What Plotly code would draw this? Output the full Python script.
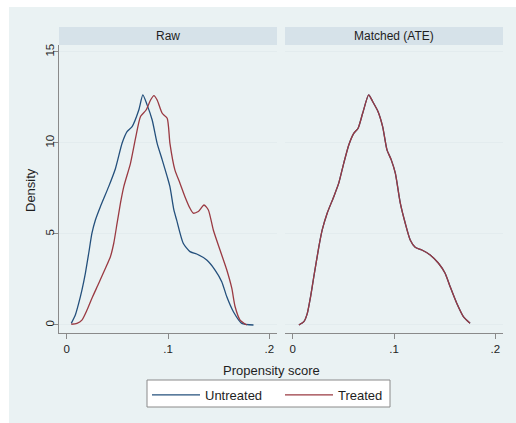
import plotly.graph_objects as go

W, H = 516, 423

# ---- data ----
raw_untreated_x = [0.0046, 0.0086, 0.0119, 0.0151, 0.0185, 0.0218, 0.0250, 0.0284, 0.0333, 0.0415,
                   0.0482, 0.0547, 0.0596, 0.0646, 0.0712, 0.0752, 0.0794, 0.0844, 0.0893, 0.0943,
                   0.0992, 0.1019, 0.1058, 0.1085, 0.1150, 0.1217, 0.1283, 0.1382, 0.1464, 0.1530,
                   0.1580, 0.1645, 0.1728, 0.1843]
raw_untreated_y = [0.09, 0.55, 1.19, 1.92, 2.84, 3.94, 5.04, 5.77, 6.50, 7.60,
                   8.60, 9.98, 10.62, 10.90, 11.81, 12.64, 12.09, 11.26, 9.98, 9.07,
                   8.15, 7.60, 6.32, 5.77, 4.49, 4.03, 3.90, 3.57, 3.02, 2.38,
                   1.55, 0.73, 0.09, 0.00]

raw_treated_x = [0.0046, 0.0102, 0.0151, 0.0201, 0.0250, 0.0317, 0.0383, 0.0432, 0.0465, 0.0498,
                 0.0531, 0.0564, 0.0630, 0.0680, 0.0729, 0.0784, 0.0828, 0.0861, 0.0893, 0.0943,
                 0.0992, 0.1019, 0.1068, 0.1118, 0.1167, 0.1217, 0.1249, 0.1299, 0.1355, 0.1398,
                 0.1447, 0.1513, 0.1580, 0.1629, 0.1662, 0.1711, 0.1777]
raw_treated_y = [0.04, 0.09, 0.27, 0.82, 1.47, 2.29, 3.12, 3.75, 4.49, 5.59,
                 6.69, 7.60, 8.88, 10.26, 11.45, 11.81, 12.36, 12.60, 12.36, 11.63,
                 11.36, 9.98, 8.52, 7.79, 7.05, 6.41, 6.14, 6.23, 6.59, 6.32,
                 5.22, 4.12, 3.02, 2.02, 1.00, 0.27, 0.00]

matched_x = [0.0062, 0.0111, 0.0145, 0.0177, 0.0209, 0.0259, 0.0292, 0.0341, 0.0406, 0.0455,
             0.0504, 0.0554, 0.0603, 0.0646, 0.0691, 0.0750, 0.0790, 0.0843, 0.0888, 0.0931,
             0.0973, 0.1013, 0.1062, 0.1111, 0.1160, 0.1209, 0.1275, 0.1357, 0.1439, 0.1504,
             0.1554, 0.1619, 0.1684, 0.1750]
matched_untreated_y = [0.00, 0.18, 0.64, 1.55, 2.65, 4.30, 5.22, 6.14, 7.05, 7.79,
                       8.88, 9.89, 10.53, 10.81, 11.63, 12.64, 12.27, 11.72, 10.90, 9.62,
                       9.07, 8.34, 6.69, 5.59, 4.67, 4.27, 4.12, 3.85, 3.39, 2.84,
                       2.10, 1.19, 0.46, 0.09]
matched_treated_y = [0.00, 0.18, 0.64, 1.55, 2.65, 4.30, 5.22, 6.14, 7.05, 7.79,
                     8.88, 9.89, 10.53, 10.81, 11.63, 12.64, 12.27, 11.72, 10.90, 9.62,
                     9.07, 8.34, 6.69, 5.59, 4.67, 4.27, 4.12, 3.85, 3.39, 2.84,
                     2.10, 1.19, 0.46, 0.09]

panel_titles = ["Raw", "Matched (ATE)"]
series_names = ["Untreated", "Treated"]
x_tickvals = [0, 0.1, 0.2]
x_ticktext = ["0", ".1", ".2"]
y_tickvals = [0, 5, 10, 15]
y_ticktext = ["0", "5", "10", "15"]

# ---- style ----
BLUE = "#24507C"
RED = "#9A3A42"
BG = "#EAF2F3"
STRIP = "#D6E2E9"
GRID = "#E3ECEE"
AXIS = "#8A8A8A"
TXT = "#1E1E1E"
FONT = "Liberation Sans, Arial, sans-serif"


def px_x(p):
    return p / W


def px_y(p):
    return 1 - p / H


left_dom = [px_x(59), px_x(277)]
right_dom = [px_x(285), px_x(503)]
y_dom = [px_y(333), px_y(45)]
xr = [-0.0075, 0.2075]
yr = [-0.44, 15.38]

fig = go.Figure()

line_style = dict(width=1.3, shape="spline", smoothing=0.6)
fig.add_trace(go.Scatter(x=raw_untreated_x, y=raw_untreated_y, mode="lines", name=series_names[0],
                         line=dict(color=BLUE, **line_style),
                         legendgroup="u", xaxis="x", yaxis="y"))
fig.add_trace(go.Scatter(x=raw_treated_x, y=raw_treated_y, mode="lines", name=series_names[1],
                         line=dict(color=RED, **line_style),
                         legendgroup="t", xaxis="x", yaxis="y"))
fig.add_trace(go.Scatter(x=matched_x, y=matched_untreated_y, mode="lines", name=series_names[0],
                         line=dict(color=BLUE, **line_style),
                         legendgroup="u", showlegend=False, xaxis="x2", yaxis="y2"))
fig.add_trace(go.Scatter(x=matched_x, y=matched_treated_y, mode="lines", name=series_names[1],
                         line=dict(color=RED, **line_style),
                         legendgroup="t", showlegend=False, xaxis="x2", yaxis="y2"))

xaxis_common = dict(range=xr, tickvals=x_tickvals, ticktext=x_ticktext, showgrid=False,
                    zeroline=False, showline=True, linecolor=AXIS, linewidth=1,
                    ticks="outside", ticklen=5, tickcolor=AXIS, tickwidth=1,
                    tickfont=dict(family=FONT, size=11.5, color=TXT), fixedrange=True)
yaxis_common = dict(range=yr, tickvals=y_tickvals, ticktext=y_ticktext, showgrid=True,
                    gridcolor=GRID, gridwidth=1, zeroline=False, fixedrange=True)

fig.update_layout(
    width=W, height=H, margin=dict(l=0, r=0, t=0, b=0),
    paper_bgcolor="white", plot_bgcolor="white",
    font=dict(family=FONT, color=TXT),
    xaxis=dict(domain=left_dom, anchor="y", **xaxis_common),
    xaxis2=dict(domain=right_dom, anchor="y2", **xaxis_common),
    yaxis=dict(domain=y_dom, anchor="x", showline=True, linecolor=AXIS, linewidth=1,
               ticks="outside", ticklen=5, tickcolor=AXIS, tickwidth=1, tickangle=-90,
               ticklabelstandoff=-6,
               tickfont=dict(family=FONT, size=11.5, color=TXT), **yaxis_common),
    yaxis2=dict(domain=y_dom, anchor="x2", showline=False, showticklabels=False, ticks="",
                **yaxis_common),
    showlegend=True,
    legend=dict(orientation="h", x=px_x(147), y=px_y(380), xanchor="left", yanchor="top",
                bgcolor="rgba(0,0,0,0)", borderwidth=0,
                font=dict(family=FONT, size=13, color=TXT),
                itemwidth=48, entrywidth=70, entrywidthmode="pixels",
                tracegroupgap=0, itemclick=False, itemdoubleclick=False),
)

shapes = [
    dict(type="rect", xref="paper", yref="paper", x0=px_x(9), x1=1, y0=0, y1=px_y(7),
         fillcolor=BG, line=dict(width=0), layer="below"),
    # legend frame
    dict(type="rect", xref="paper", yref="paper", x0=px_x(147), x1=px_x(390),
         y0=px_y(407), y1=px_y(380), fillcolor="white", line=dict(color=AXIS, width=1),
         layer="above"),
]
for dom in (left_dom, right_dom):
    shapes.append(dict(type="rect", xref="paper", yref="paper", x0=dom[0], x1=dom[1],
                       y0=px_y(45), y1=px_y(27), fillcolor=STRIP, line=dict(width=0),
                       layer="below"))
fig.update_layout(shapes=shapes)

annotations = []
for dom, title in zip((left_dom, right_dom), panel_titles):
    annotations.append(dict(text=title, xref="paper", yref="paper", x=(dom[0] + dom[1]) / 2,
                            y=px_y(36), xanchor="center", yanchor="middle", showarrow=False,
                            font=dict(family=FONT, size=12, color=TXT)))
annotations.append(dict(text="Density", xref="paper", yref="paper", x=px_x(30), y=px_y(190),
                        xanchor="center", yanchor="middle", textangle=-90, showarrow=False,
                        font=dict(family=FONT, size=13, color=TXT)))
annotations.append(dict(text="Propensity score", xref="paper", yref="paper", x=px_x(271),
                        y=px_y(370), xanchor="center", yanchor="middle", showarrow=False,
                        font=dict(family=FONT, size=13, color=TXT)))
fig.update_layout(annotations=annotations)

fig.write_html("out.html", config=dict(displayModeBar=False))
